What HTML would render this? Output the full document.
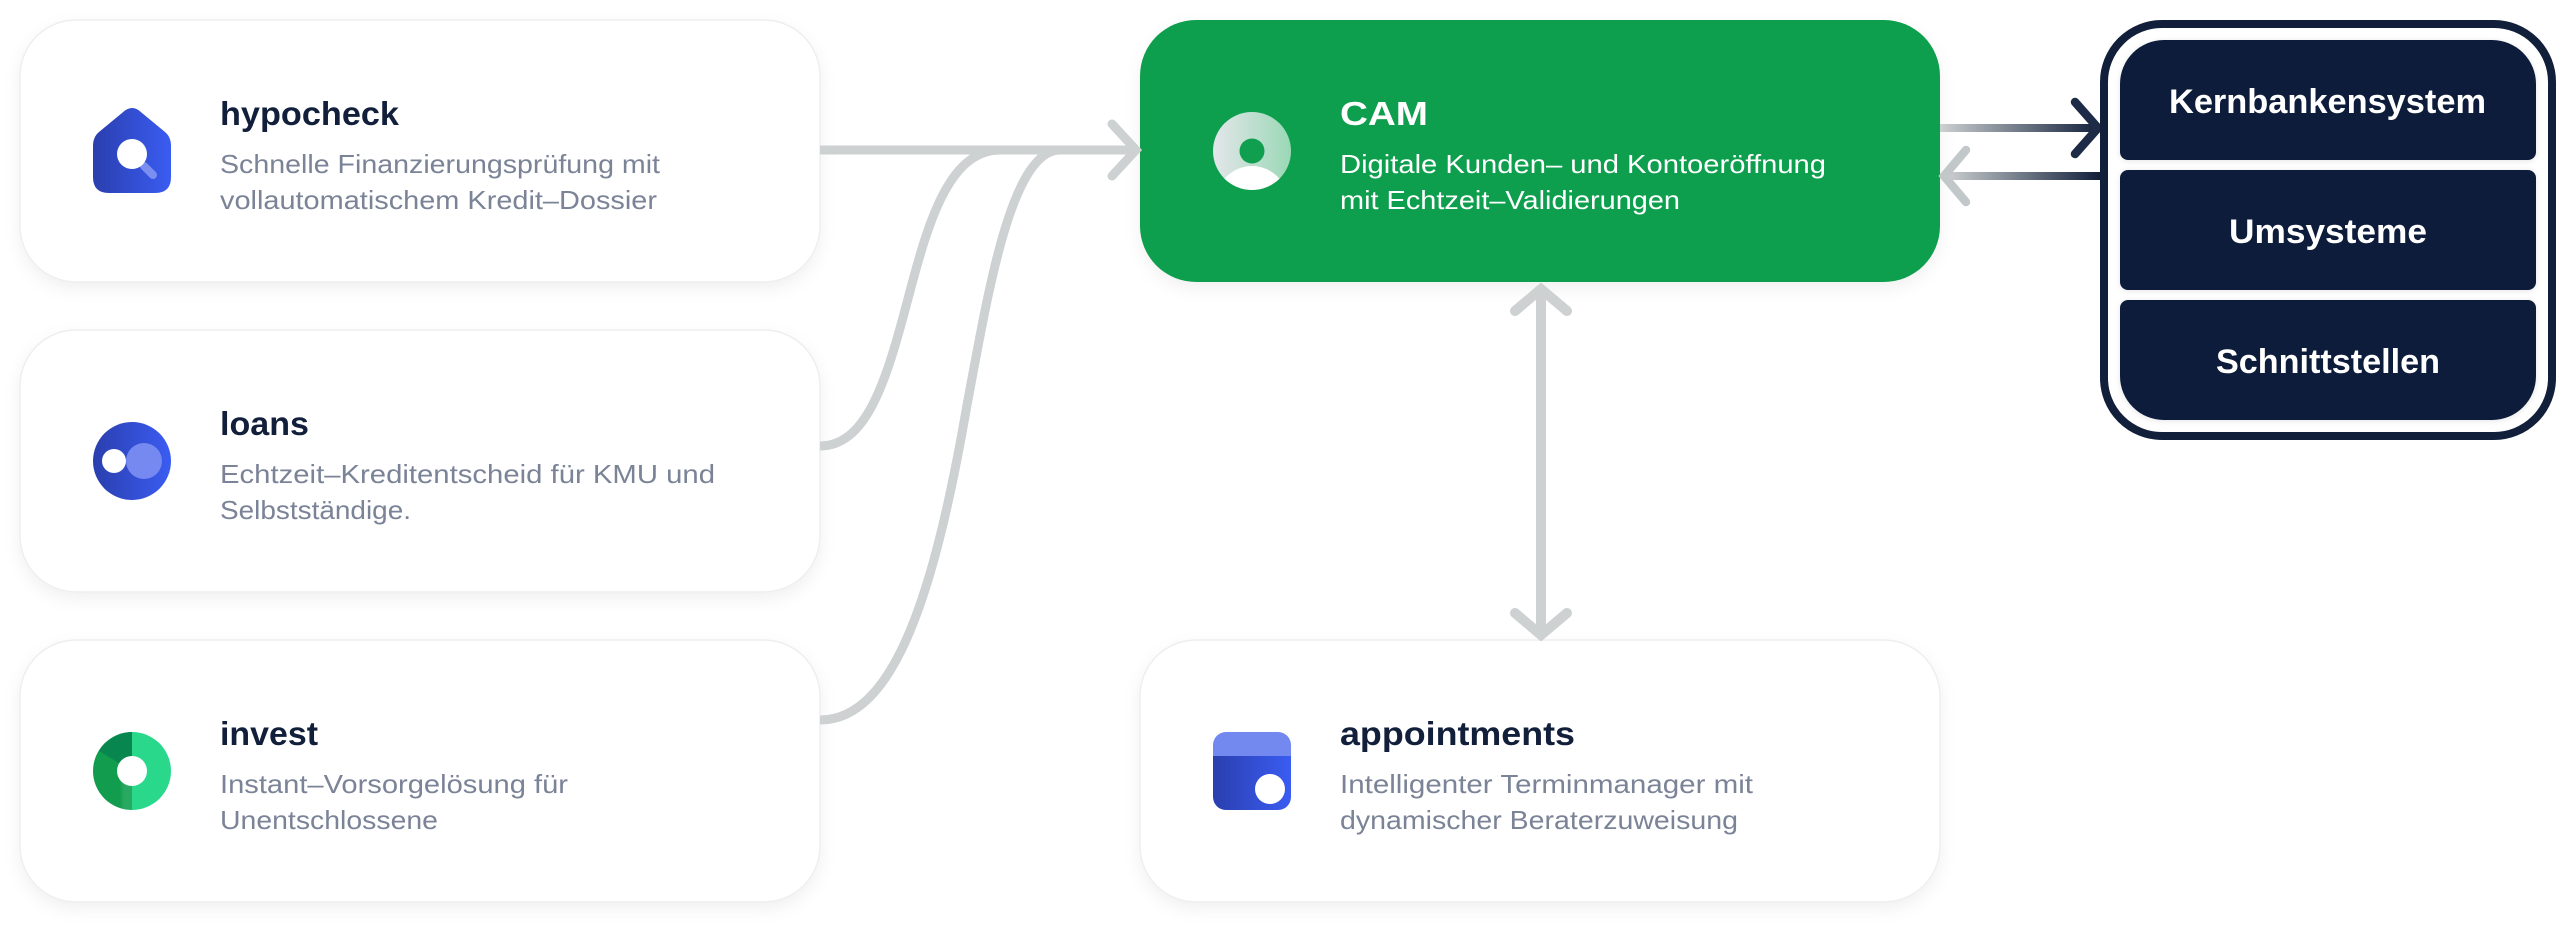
<!DOCTYPE html>
<html><head><meta charset="utf-8">
<style>
html,body{margin:0;padding:0;background:#fff;width:2576px;height:926px;overflow:hidden}
svg{display:block}
text{font-family:"Liberation Sans",sans-serif}
.t{font-size:33px;font-weight:700;fill:#111f3b}
.d{font-size:26px;fill:#7b8397}
.b{font-size:34px;font-weight:700;fill:#fff}
</style></head><body>
<svg width="2576" height="926" viewBox="0 0 2576 926" xmlns="http://www.w3.org/2000/svg">
<defs>
<filter id="s" x="-10%" y="-20%" width="120%" height="145%"><feDropShadow dx="0" dy="6" stdDeviation="8" flood-color="#000" flood-opacity="0.06"/></filter>
<filter id="s2" x="-10%" y="-20%" width="120%" height="140%"><feDropShadow dx="0" dy="1" stdDeviation="3" flood-color="#000" flood-opacity="0.10"/></filter>
<linearGradient id="blue" x1="0" x2="1" y1="0" y2="0"><stop offset="0" stop-color="#2a3fae"/><stop offset="1" stop-color="#3a5cf2"/></linearGradient>
<linearGradient id="cam" x1="0" x2="1" y1="0" y2="0"><stop offset="0" stop-color="#e4e6ea"/><stop offset="1" stop-color="#9ad8b6"/></linearGradient>
<linearGradient id="g1" gradientUnits="userSpaceOnUse" x1="1940" y1="0" x2="2100" y2="0"><stop offset="0" stop-color="#cdd1d1"/><stop offset="1" stop-color="#111f3b"/></linearGradient>
<linearGradient id="g2" gradientUnits="userSpaceOnUse" x1="1945" y1="0" x2="2100" y2="0"><stop offset="0" stop-color="#cdd1d1"/><stop offset="1" stop-color="#111f3b"/></linearGradient>
<linearGradient id="iv" gradientUnits="userSpaceOnUse" x1="93" y1="0" x2="132" y2="0"><stop offset="0" stop-color="#129c4d"/><stop offset="0.68" stop-color="#129c4d"/><stop offset="0.8" stop-color="#27a962"/><stop offset="1" stop-color="#27a962"/></linearGradient>
<clipPath id="cc"><circle cx="1252" cy="151" r="39"/></clipPath>
<clipPath id="ap"><rect x="1213" y="732" width="78" height="78" rx="13"/></clipPath>
</defs>

<!-- cards -->
<g fill="#fff" stroke="#eeeeee" stroke-width="1.5" filter="url(#s)">
<rect x="20" y="20" width="800" height="262" rx="56"/>
<rect x="20" y="330" width="800" height="262" rx="56"/>
<rect x="20" y="640" width="800" height="262" rx="56"/>
<rect x="1140" y="640" width="800" height="262" rx="56"/>
</g>
<rect x="1140" y="20" width="800" height="262" rx="56" fill="#109f4e" filter="url(#s)"/>

<!-- left connectors -->
<g fill="none" stroke="#cdd1d1" stroke-width="9">
<path d="M820 150H1134"/>
<path d="M820 446C865 446 885 385 905 310C925 235 945 150 1000 150"/>
<path d="M820 720C895 720 935 590 967 405C987 300 1010 150 1060 150"/>
<path d="M1112 124L1136 150L1112 176" stroke-linecap="round"/>
</g>
<!-- vertical connector -->
<g fill="none" stroke="#cdd1d1" stroke-width="10" stroke-linecap="round">
<path d="M1541 292V632" stroke-linecap="butt"/>
<path d="M1515 311L1541 289L1567 311"/>
<path d="M1515 613L1541 635L1567 613"/>
</g>
<!-- right connectors -->
<g fill="none" stroke-width="8">
<path d="M1940 128H2096" stroke="url(#g1)"/>
<path d="M2075 102L2098 128L2075 154" stroke="#1d2b47" stroke-width="8.5" stroke-linecap="round"/>
<path d="M1948 176H2100" stroke="url(#g2)"/>
<path d="M1966 150L1944 176L1966 202" stroke="#c2c7ca" stroke-width="8.5" stroke-linecap="round"/>
</g>

<!-- system block -->
<rect x="2104" y="24" width="448" height="412" rx="58" fill="#fff" stroke="#111f3b" stroke-width="8"/>
<g fill="#111f3b" filter="url(#s2)">
<path d="M2164 40H2492A44 44 0 0 1 2536 84V152A8 8 0 0 1 2528 160H2128A8 8 0 0 1 2120 152V84A44 44 0 0 1 2164 40Z"/>
<rect x="2120" y="170" width="416" height="120" rx="8"/>
<path d="M2128 300H2528A8 8 0 0 1 2536 308V376A44 44 0 0 1 2492 420H2164A44 44 0 0 1 2120 376V308A8 8 0 0 1 2128 300Z"/>
</g>
<text class="b" x="2169" y="113" textLength="317" lengthAdjust="spacingAndGlyphs">Kernbankensystem</text>
<text class="b" x="2229" y="243" textLength="198" lengthAdjust="spacingAndGlyphs">Umsysteme</text>
<text class="b" x="2216" y="373" textLength="224" lengthAdjust="spacingAndGlyphs">Schnittstellen</text>

<!-- hypocheck -->
<path d="M125 110.5Q132 105.5 139 110.5L165 132Q171 137 171 146V177Q171 193 155 193H109Q93 193 93 177V146Q93 137 99 132Z" fill="url(#blue)"/>
<path d="M144 166L153 175" stroke="#7b8ff2" stroke-width="8" stroke-linecap="round"/>
<circle cx="132" cy="154" r="15" fill="#fff"/>
<text class="t" x="220" y="125" textLength="179" lengthAdjust="spacingAndGlyphs">hypocheck</text>
<text class="d" x="220" y="173" textLength="440" lengthAdjust="spacingAndGlyphs">Schnelle Finanzierungsprüfung mit</text>
<text class="d" x="220" y="209" textLength="437" lengthAdjust="spacingAndGlyphs">vollautomatischem Kredit–Dossier</text>

<!-- loans -->
<circle cx="132" cy="461" r="39" fill="url(#blue)"/>
<circle cx="144" cy="461" r="18" fill="#7589f0"/>
<circle cx="114" cy="461" r="12" fill="#fff"/>
<text class="t" x="220" y="435" textLength="89" lengthAdjust="spacingAndGlyphs">loans</text>
<text class="d" x="220" y="483" textLength="495" lengthAdjust="spacingAndGlyphs">Echtzeit–Kreditentscheid für KMU und</text>
<text class="d" x="220" y="519" textLength="191" lengthAdjust="spacingAndGlyphs">Selbstständige.</text>

<!-- invest -->
<path d="M132 732A39 39 0 0 1 132 810Z" fill="#2ad88c"/>
<path d="M132 732A39 39 0 0 0 93 771A39 39 0 0 0 132 810Z" fill="url(#iv)"/>
<path d="M132 771L99 751A39 39 0 0 1 132 732Z" fill="#07874f"/>
<circle cx="132" cy="771" r="15" fill="#fff"/>
<text class="t" x="220" y="745" textLength="98" lengthAdjust="spacingAndGlyphs">invest</text>
<text class="d" x="220" y="793" textLength="348" lengthAdjust="spacingAndGlyphs">Instant–Vorsorgelösung für</text>
<text class="d" x="220" y="829" textLength="218" lengthAdjust="spacingAndGlyphs">Unentschlossene</text>

<!-- CAM -->
<circle cx="1252" cy="151" r="39" fill="url(#cam)"/>
<circle cx="1252" cy="151" r="12.5" fill="#109f4e"/>
<g clip-path="url(#cc)"><circle cx="1252" cy="202" r="36" fill="#fff"/></g>
<text class="t" x="1340" y="125" textLength="88" lengthAdjust="spacingAndGlyphs" style="fill:#fff">CAM</text>
<text class="d" x="1340" y="173" textLength="486" lengthAdjust="spacingAndGlyphs" style="fill:#fff">Digitale Kunden– und Kontoeröffnung</text>
<text class="d" x="1340" y="209" textLength="340" lengthAdjust="spacingAndGlyphs" style="fill:#fff">mit Echtzeit–Validierungen</text>

<!-- appointments -->
<g clip-path="url(#ap)">
<rect x="1213" y="756" width="78" height="54" fill="url(#blue)"/>
<rect x="1213" y="732" width="78" height="24" fill="#7389f0"/>
</g>
<circle cx="1270" cy="789" r="15" fill="#fff"/>
<text class="t" x="1340" y="745" textLength="235" lengthAdjust="spacingAndGlyphs">appointments</text>
<text class="d" x="1340" y="793" textLength="413" lengthAdjust="spacingAndGlyphs">Intelligenter Terminmanager mit</text>
<text class="d" x="1340" y="829" textLength="398" lengthAdjust="spacingAndGlyphs">dynamischer Beraterzuweisung</text>
</svg>
</body></html>
